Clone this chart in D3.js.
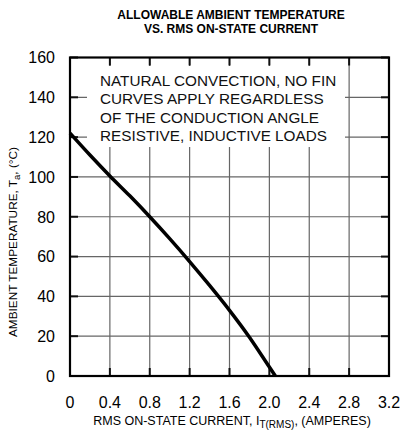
<!DOCTYPE html>
<html>
<head>
<meta charset="utf-8">
<script src="https://cdn.jsdelivr.net/npm/d3@7"></script>
<style>
  body { margin: 0; background: #fff; }
  svg { font-family: "Liberation Sans", Arial, sans-serif; }
</style>
</head>
<body>
<div id="chart"></div>
<script>
var width = 403;
var height = 430;

// data
var currents = [0, 0.2, 0.4, 0.6, 0.8, 1.0, 1.2, 1.4, 1.6, 1.8, 2.0, 2.06];
var temps = [122, 111, 100.5, 90.5, 80, 69, 57.5, 45.5, 33, 19.5, 4.5, 0];

var xTicks = [0, 0.4, 0.8, 1.2, 1.6, 2.0, 2.4, 2.8, 3.2];
var xTickLabels = ["0", "0.4", "0.8", "1.2", "1.6", "2.0", "2.4", "2.8", "3.2"];
var yTicks = [0, 20, 40, 60, 80, 100, 120, 140, 160];

var noteLines = [
  "NATURAL CONVECTION, NO FIN",
  "CURVES APPLY REGARDLESS",
  "OF THE CONDUCTION ANGLE",
  "RESISTIVE, INDUCTIVE LOADS"
];

var svg = d3.select("#chart")
  .append("svg")
  .attr("width", width)
  .attr("height", height);

var x = d3.scaleLinear().domain([0, 3.2]).range([70, 389]);
var y = d3.scaleLinear().domain([0, 160]).range([376, 57.5]);

//////////////////////////// grid ////////////////////////////
svg.append("g").selectAll("line")
  .data(xTicks.slice(1, -1))
  .enter().append("line")
  .attr("x1", function(d) { return x(d); })
  .attr("x2", function(d) { return x(d); })
  .attr("y1", y(0)).attr("y2", y(160))
  .attr("stroke", "#666").attr("stroke-width", 1.2);

svg.append("g").selectAll("line")
  .data(yTicks.slice(1, -1))
  .enter().append("line")
  .attr("y1", function(d) { return y(d); })
  .attr("y2", function(d) { return y(d); })
  .attr("x1", x(0)).attr("x2", x(3.2))
  .attr("stroke", "#666").attr("stroke-width", 1.2);

//////////////////////////// note box ////////////////////////////
svg.append("rect")
  .attr("x", 87).attr("y", 66)
  .attr("width", 258).attr("height", 81)
  .attr("fill", "#fff");

svg.append("g").selectAll("text")
  .data(noteLines)
  .enter().append("text")
  .attr("x", 100)
  .attr("y", function(d, i) { return 86 + i * 18.4; })
  .style("font-size", "15.3px")
  .attr("fill", "#111")
  .text(function(d) { return d; });

//////////////////////////// ticks ////////////////////////////
var tickLen = 8;
var ticks = svg.append("g").attr("stroke", "#111").attr("stroke-width", 2);
xTicks.forEach(function(d) {
  ticks.append("line").attr("x1", x(d)).attr("x2", x(d)).attr("y1", y(0)).attr("y2", y(0) - tickLen);
  ticks.append("line").attr("x1", x(d)).attr("x2", x(d)).attr("y1", y(160)).attr("y2", y(160) + tickLen);
});
yTicks.forEach(function(d) {
  ticks.append("line").attr("y1", y(d)).attr("y2", y(d)).attr("x1", x(0)).attr("x2", x(0) + tickLen);
  ticks.append("line").attr("y1", y(d)).attr("y2", y(d)).attr("x1", x(3.2)).attr("x2", x(3.2) - tickLen);
});

// frame
svg.append("rect")
  .attr("x", x(0)).attr("y", y(160))
  .attr("width", x(3.2) - x(0)).attr("height", y(0) - y(160))
  .attr("fill", "none").attr("stroke", "#000").attr("stroke-width", 2.2);

//////////////////////////// curve ////////////////////////////
var line = d3.line()
  .x(function(d, i) { return x(currents[i]); })
  .y(function(d) { return y(d); })
  .curve(d3.curveMonotoneX);

svg.append("path")
  .datum(temps)
  .attr("d", line)
  .attr("fill", "none")
  .attr("stroke", "#000")
  .attr("stroke-width", 3.5);

//////////////////////////// tick labels ////////////////////////////
svg.append("g").selectAll("text")
  .data(xTicks)
  .enter().append("text")
  .attr("x", function(d) { return x(d); })
  .attr("y", 408)
  .attr("text-anchor", "middle")
  .style("font-size", "16px")
  .text(function(d, i) { return xTickLabels[i]; });

svg.append("g").selectAll("text")
  .data(yTicks)
  .enter().append("text")
  .attr("x", 55)
  .attr("y", function(d) { return y(d); })
  .attr("dy", "0.36em")
  .attr("text-anchor", "end")
  .style("font-size", "16px")
  .text(function(d) { return d; });

//////////////////////////// titles ////////////////////////////
svg.append("text")
  .attr("x", 231).attr("y", 19)
  .attr("text-anchor", "middle")
  .style("font-size", "12px").style("font-weight", "bold")
  .text("ALLOWABLE AMBIENT TEMPERATURE");

svg.append("text")
  .attr("x", 231).attr("y", 33)
  .attr("text-anchor", "middle")
  .style("font-size", "12px").style("font-weight", "bold")
  .text("VS. RMS ON-STATE CURRENT");

var xTitle = svg.append("text")
  .attr("x", 232).attr("y", 425)
  .attr("text-anchor", "middle")
  .style("font-size", "12.5px");
xTitle.append("tspan").text("RMS ON-STATE CURRENT, I");
xTitle.append("tspan").attr("dy", 3).style("font-size", "10px").text("T(RMS)");
xTitle.append("tspan").attr("dy", -3).text(", (AMPERES)");

var yTitle = svg.append("text")
  .attr("transform", "translate(17," + 242 + ") rotate(-90)")
  .attr("text-anchor", "middle")
  .style("font-size", "11.8px");
yTitle.append("tspan").text("AMBIENT TEMPERATURE, T");
yTitle.append("tspan").attr("dy", 3).style("font-size", "9.5px").text("a");
yTitle.append("tspan").attr("dy", -3).text(", (°C)");
</script>
</body>
</html>
